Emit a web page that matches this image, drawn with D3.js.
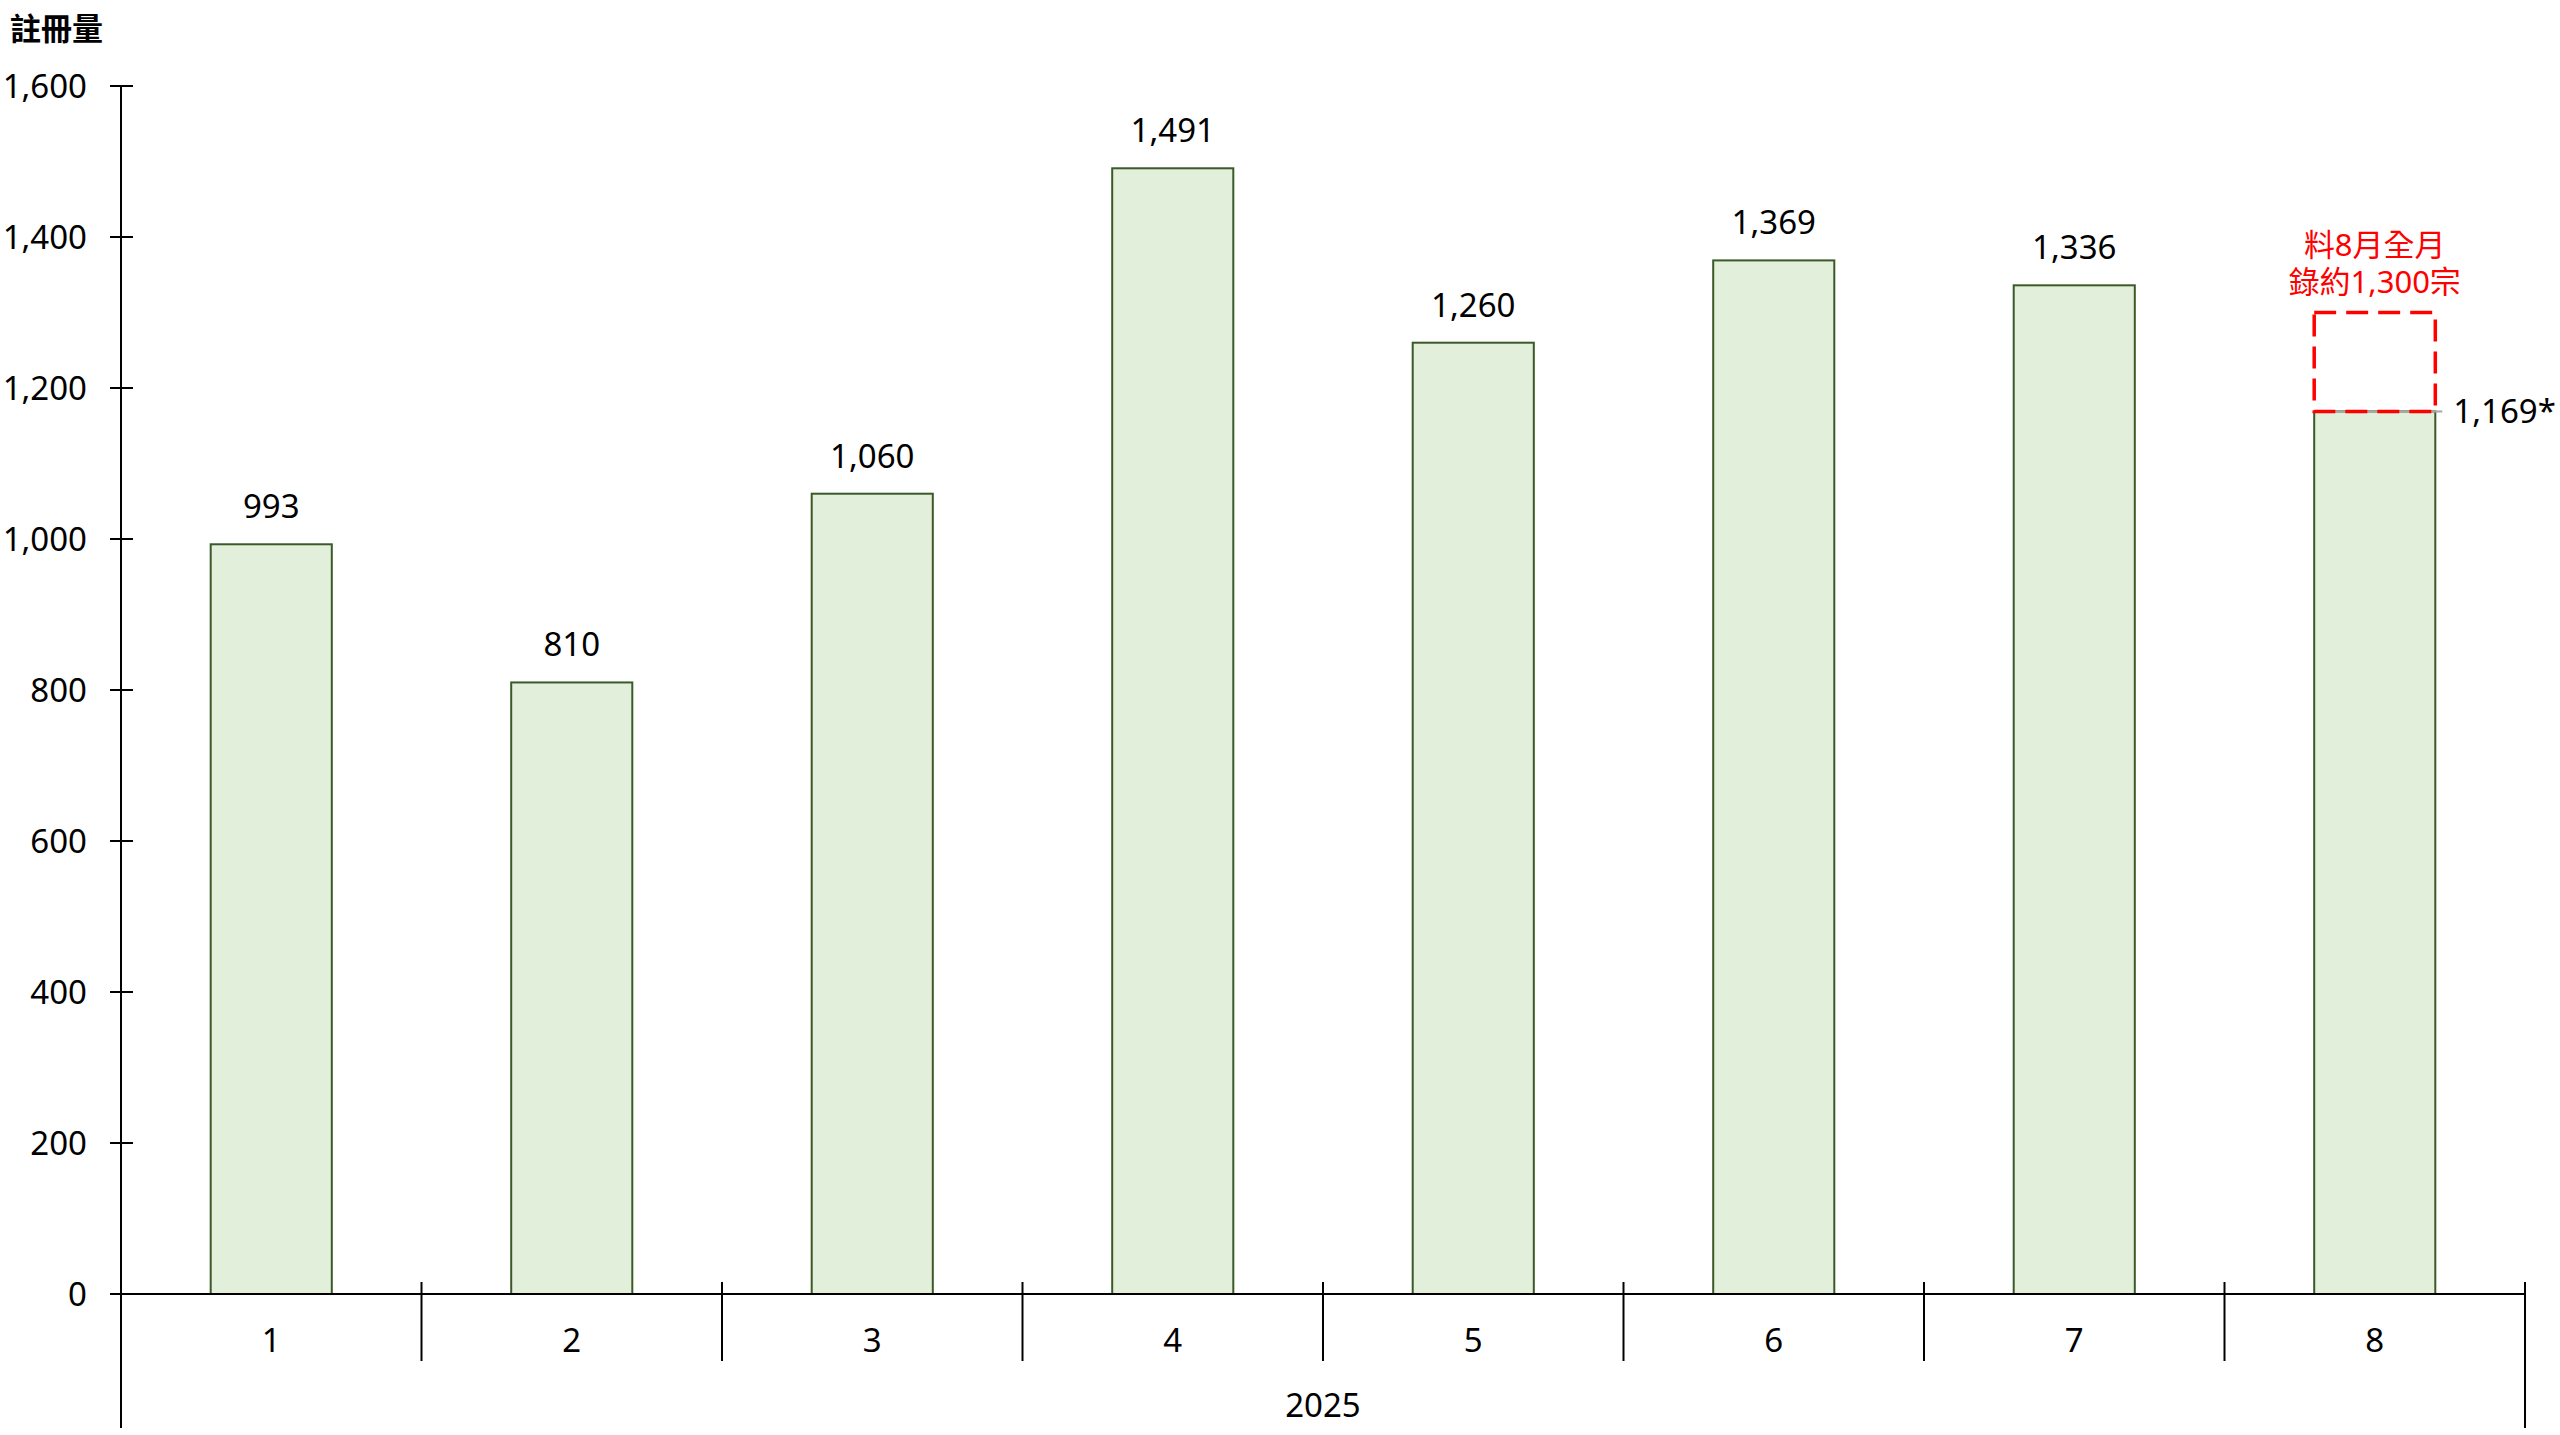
<!DOCTYPE html>
<html>
<head>
<meta charset="utf-8">
<script src="https://cdn.jsdelivr.net/npm/d3@7"></script>
<style>
  body { margin: 0; background: #fff; }
  text { font-family: "Noto Sans", "Noto Sans CJK TC", sans-serif; }
</style>
</head>
<body>
<svg></svg>
<script>
"use strict";

// data
var months = ['1', '2', '3', '4', '5', '6', '7', '8'];
var registrations = [993, 810, 1060, 1491, 1260, 1369, 1336, 1169];
var valueLabels = ['993', '810', '1,060', '1,491', '1,260', '1,369', '1,336', '1,169*'];
var yearLabel = '2025';
var yTicks = [0, 200, 400, 600, 800, 1000, 1200, 1400, 1600];
var forecastValue = 1300;
var forecastText = ['料8月全月', '錄約1,300宗'];
var yTitle = '註冊量';

var settings = {
    svg: { width: 2560, height: 1435 },
    plot: { left: 121, right: 2525, top: 86, bottom: 1294, axisEnd: 1428 },
    bar: { fill: '#e2efda', stroke: '#3b5a27' },
    font: 33
};

var svg = d3.select('svg')
    .attr('width', settings.svg.width)
    .attr('height', settings.svg.height);

var x = d3.scaleBand()
    .domain(months)
    .range([settings.plot.left, settings.plot.right])
    .paddingInner(0.597)
    .paddingOuter(0.2985);

var y = d3.scaleLinear()
    .domain([0, 1600])
    .range([settings.plot.bottom, settings.plot.top]);

var step = x.step();

// bars
svg.append('g')
    .selectAll('rect')
    .data(registrations)
    .enter()
    .append('rect')
    .attr('x', (d, i) => x(months[i]))
    .attr('y', d => y(d))
    .attr('width', x.bandwidth())
    .attr('height', d => y(0) - y(d))
    .attr('fill', settings.bar.fill)
    .attr('stroke', settings.bar.stroke)
    .attr('stroke-width', 2);

// value labels (last one sits to the right)
svg.append('g')
    .selectAll('text')
    .data(registrations)
    .enter()
    .append('text')
    .attr('x', (d, i) => i === months.length - 1
        ? x(months[i]) + x.bandwidth() + 18
        : x(months[i]) + x.bandwidth() / 2)
    .attr('y', (d, i) => i === months.length - 1 ? y(d) + 12 : y(d) - 26)
    .attr('text-anchor', (d, i) => i === months.length - 1 ? 'start' : 'middle')
    .attr('font-size', settings.font)
    .attr('fill', '#000')
    .text((d, i) => valueLabels[i]);

// forecast box for the last month
var last = months[months.length - 1];
var lastVal = registrations[registrations.length - 1];
svg.append('line')
    .attr('x1', x(last))
    .attr('x2', x(last) + x.bandwidth() + 7)
    .attr('y1', y(lastVal))
    .attr('y2', y(lastVal))
    .attr('stroke', '#a6a6a6')
    .attr('stroke-width', 2);

svg.append('rect')
    .attr('x', x(last))
    .attr('y', y(forecastValue))
    .attr('width', x.bandwidth())
    .attr('height', y(lastVal) - y(forecastValue))
    .attr('fill', 'none')
    .attr('stroke', '#ff0000')
    .attr('stroke-width', 3.5)
    .attr('stroke-dasharray', '22,10');

svg.append('g')
    .selectAll('text')
    .data(forecastText)
    .enter()
    .append('text')
    .attr('x', x(last) + x.bandwidth() / 2)
    .attr('y', (d, i) => y(forecastValue) - 57 + i * 37)
    .attr('text-anchor', 'middle')
    .attr('font-size', 31)
    .attr('fill', '#ff0000')
    .text(d => d);

// y axis
var yAxis = svg.append('g');
yAxis.append('line')
    .attr('x1', settings.plot.left).attr('x2', settings.plot.left)
    .attr('y1', y(1600)).attr('y2', settings.plot.axisEnd)
    .attr('stroke', '#000').attr('stroke-width', 2);

yAxis.selectAll('.tick')
    .data(yTicks)
    .enter()
    .append('line')
    .attr('x1', settings.plot.left - 11)
    .attr('x2', settings.plot.left + 12)
    .attr('y1', d => y(d))
    .attr('y2', d => y(d))
    .attr('stroke', '#000').attr('stroke-width', 2);

yAxis.selectAll('text')
    .data(yTicks)
    .enter()
    .append('text')
    .attr('x', 87)
    .attr('y', d => y(d))
    .attr('dy', '0.36em')
    .attr('text-anchor', 'end')
    .attr('font-size', settings.font)
    .text(d3.format(','));

svg.append('text')
    .attr('x', 10)
    .attr('y', 40)
    .attr('font-size', 31)
    .attr('font-weight', 'bold')
    .style('font-family', '"Noto Sans CJK TC", sans-serif')
    .text(yTitle);

// x axis
var xAxis = svg.append('g');
xAxis.append('line')
    .attr('x1', settings.plot.left - 11).attr('x2', settings.plot.right)
    .attr('y1', y(0)).attr('y2', y(0))
    .attr('stroke', '#000').attr('stroke-width', 2);

var bounds = d3.range(1, months.length + 1).map(i => settings.plot.left + i * step);
xAxis.selectAll('.sep')
    .data(bounds)
    .enter()
    .append('line')
    .attr('x1', d => d).attr('x2', d => d)
    .attr('y1', y(0) - 12)
    .attr('y2', (d, i) => i === bounds.length - 1 ? settings.plot.axisEnd : y(0) + 67)
    .attr('stroke', '#000').attr('stroke-width', 2);

xAxis.selectAll('text')
    .data(months)
    .enter()
    .append('text')
    .attr('x', d => x(d) + x.bandwidth() / 2)
    .attr('y', y(0) + 58)
    .attr('text-anchor', 'middle')
    .attr('font-size', settings.font)
    .text(d => d);

svg.append('text')
    .attr('x', (settings.plot.left + settings.plot.right) / 2)
    .attr('y', 1417)
    .attr('text-anchor', 'middle')
    .attr('font-size', settings.font)
    .text(yearLabel);
</script>
</body>
</html>
